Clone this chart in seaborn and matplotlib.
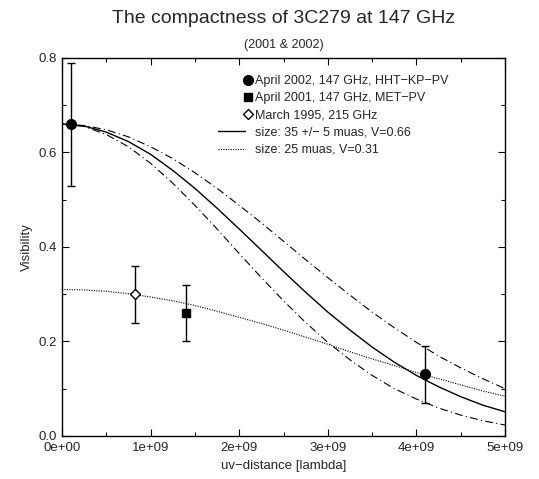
# ----------------------------------------
# Imports
import numpy as np
import pandas as pd
import seaborn as sns
import matplotlib.pyplot as plt
from matplotlib.lines import Line2D
from matplotlib.legend_handler import HandlerLine2D
# ----------------------------------------

# Measured visibilities (uv-distance in lambda)
apr2002_uv = [0.1e9, 4.1e9]
apr2002_vis = [0.66, 0.13]
apr2002_err = [0.13, 0.06]

apr2001_uv = [1.4e9]
apr2001_vis = [0.26]
apr2001_err = [0.06]

mar1995_uv = [0.82e9]
mar1995_vis = [0.30]
mar1995_err = [0.06]

model_uv = [0.0, 0.25e9, 0.5e9, 0.75e9, 1.0e9, 1.25e9, 1.5e9, 1.75e9, 2.0e9, 2.25e9, 2.5e9,
            2.75e9, 3.0e9, 3.25e9, 3.5e9, 3.75e9, 4.0e9, 4.25e9, 4.5e9, 4.75e9, 5.0e9]
size35 = [0.660, 0.656, 0.643, 0.623, 0.596, 0.562, 0.524, 0.482, 0.438, 0.393, 0.348,
          0.304, 0.262, 0.224, 0.188, 0.156, 0.128, 0.104, 0.083, 0.065, 0.051]
size30 = [0.660, 0.657, 0.648, 0.633, 0.612, 0.587, 0.557, 0.524, 0.488, 0.451, 0.412,
          0.373, 0.335, 0.298, 0.262, 0.229, 0.198, 0.169, 0.144, 0.121, 0.100]
size40 = [0.660, 0.655, 0.638, 0.612, 0.577, 0.535, 0.488, 0.438, 0.386, 0.335, 0.286,
          0.240, 0.198, 0.161, 0.128, 0.100, 0.078, 0.059, 0.044, 0.032, 0.023]
size25 = [0.310, 0.309, 0.306, 0.301, 0.294, 0.286, 0.276, 0.264, 0.251, 0.238, 0.224,
          0.209, 0.194, 0.178, 0.163, 0.149, 0.134, 0.121, 0.108, 0.095, 0.084]

x_ticks = [0, 1e9, 2e9, 3e9, 4e9, 5e9]
x_ticklabels = ['0e+00', '1e+09', '2e+09', '3e+09', '4e+09', '5e+09']
y_ticks = [0.0, 0.2, 0.4, 0.6, 0.8]
y_ticklabels = ['0.0', '0.2', '0.4', '0.6', '0.8']

lbl_2002 = 'April 2002, 147 GHz, HHT\u2212KP\u2212PV'
lbl_2001 = 'April 2001, 147 GHz, MET\u2212PV'
lbl_1995 = 'March 1995, 215 GHz'
lbl_35 = 'size: 35 +/\u2212 5 muas, V=0.66'
lbl_25 = 'size: 25 muas, V=0.31'


class RightMarker(HandlerLine2D):
    """gnuplot-style key: point symbol sits at the right end of the sample."""
    def create_artists(self, legend, orig_handle, xdescent, ydescent,
                       width, height, fontsize, trans):
        y = (height - ydescent) / 2
        line = Line2D([-xdescent, -xdescent + width], [y, y])
        self.update_prop(line, orig_handle, legend)
        line.set_marker('None')
        mark = Line2D([-xdescent + width + 1.5], [y])
        self.update_prop(mark, orig_handle, legend)
        mark.set_linestyle('None')
        line.set_transform(trans)
        mark.set_transform(trans)
        return [line, mark]


def main():
    sns.set_style('ticks')
    plt.rcParams['font.family'] = ['Liberation Sans', 'DejaVu Sans']
    plt.rcParams['xtick.direction'] = 'in'
    plt.rcParams['ytick.direction'] = 'in'

    fig, ax = plt.subplots(figsize=(5.39, 4.79), dpi=100)
    fig.subplots_adjust(left=0.115, right=0.937, top=0.879, bottom=0.090)

    df = pd.DataFrame({'uv': model_uv, 's35': size35, 's30': size30,
                       's40': size40, 's25': size25})

    # dash-dot envelopes (30 and 40 muas)
    sns.lineplot(data=df, x='uv', y='s30', ax=ax, color='black', linewidth=0.8,
                 linestyle=(0, (7, 3, 1, 3)))
    sns.lineplot(data=df, x='uv', y='s40', ax=ax, color='black', linewidth=0.8,
                 linestyle=(0, (7, 3, 1, 3)))
    sns.lineplot(data=df, x='uv', y='s35', ax=ax, color='black', linewidth=1.0)
    sns.lineplot(data=df, x='uv', y='s25', ax=ax, color='black', linewidth=0.8,
                 linestyle=(0, (1, 1.2)))

    # measurements with error bars
    ax.errorbar(apr2002_uv, apr2002_vis, yerr=apr2002_err, fmt='o', color='black',
                markersize=7, capsize=2.8, elinewidth=1, capthick=1, zorder=5)
    ax.errorbar(apr2001_uv, apr2001_vis, yerr=apr2001_err, fmt='s', color='black',
                markersize=6, capsize=2.8, elinewidth=1, capthick=1, zorder=5)
    ax.errorbar(mar1995_uv, mar1995_vis, yerr=mar1995_err, fmt='D', color='black',
                mfc='white', markersize=5.5, mew=1, capsize=2.8, elinewidth=1,
                capthick=1, zorder=5)

    ax.set_xlim(0, 5e9)
    ax.set_ylim(0, 0.8)
    ax.set_xticks(x_ticks)
    ax.set_xticklabels(x_ticklabels, fontsize=9.5)
    ax.set_yticks(y_ticks)
    ax.set_yticklabels(y_ticklabels, fontsize=9.5)
    ax.set_xticks(np.arange(0.5e9, 5e9, 1e9), minor=True)
    ax.set_yticks([0.1, 0.3, 0.5, 0.7], minor=True)
    ax.tick_params(which='both', top=True, right=True, color='black', width=0.8)
    ax.tick_params(which='major', length=5)
    ax.tick_params(which='minor', length=3)
    ax.tick_params(axis='x', pad=4.5)
    for s in ax.spines.values():
        s.set_linewidth(1.0)
        s.set_color('black')

    ax.set_xlabel('uv\u2212distance [lambda]', fontsize=9.5)
    ax.set_ylabel('Visibility', fontsize=9.5)

    fig.text(0.527, 0.962, 'The compactness of 3C279 at 147 GHz', ha='center',
             va='center', fontsize=14)
    fig.text(0.527, 0.906, '(2001 & 2002)', ha='center', va='center', fontsize=9)

    # key: point symbols first, then model lines
    handles = [
        Line2D([], [], ls='none', marker='o', color='black', markersize=7),
        Line2D([], [], ls='none', marker='s', color='black', markersize=6),
        Line2D([], [], ls='none', marker='D', color='black', mfc='white',
               markersize=5.5, mew=1),
        Line2D([], [], color='black', linewidth=1.0),
        Line2D([], [], color='black', linewidth=0.8, linestyle=(0, (1, 1.2))),
    ]
    labels = [lbl_2002, lbl_2001, lbl_1995, lbl_35, lbl_25]
    ax.legend(handles, labels, loc='upper left', bbox_to_anchor=(0.352, 0.955),
              frameon=False, fontsize=9, handlelength=2.2, handletextpad=0.75,
              labelspacing=0.42, borderaxespad=0, borderpad=0,
              handler_map={Line2D: RightMarker()})

    fig.savefig('out.png', dpi=100)


if __name__ == "__main__":
    main()
